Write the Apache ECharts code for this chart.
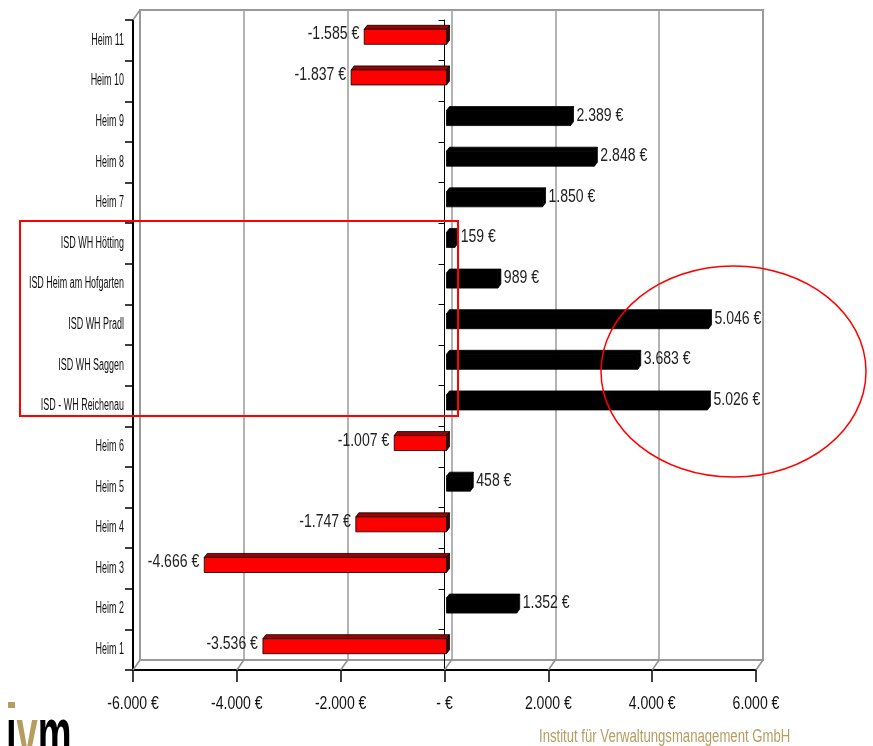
<!DOCTYPE html>
<html>
<head>
<meta charset="utf-8">
<script src="https://cdn.jsdelivr.net/npm/echarts@6/dist/echarts.min.js"></script>
<style>
  html, body { margin: 0; padding: 0; background: #fff; }
  #chart { width: 873px; height: 746px; }
</style>
</head>
<body>
<div id="chart"></div>
<script>
// Categories, bottom to top
const categories = [
  'Heim 1', 'Heim 2', 'Heim 3', 'Heim 4', 'Heim 5', 'Heim 6',
  'ISD - WH Reichenau', 'ISD WH Saggen', 'ISD WH Pradl',
  'ISD Heim am Hofgarten', 'ISD WH Hötting',
  'Heim 7', 'Heim 8', 'Heim 9', 'Heim 10', 'Heim 11'
];
// Result per home in euro
const values = [
  -3536, 1352, -4666, -1747, 458, -1007,
  5026, 3683, 5046,
  989, 159,
  1850, 2848, 2389, -1837, -1585
];
// Value axis ticks
const xTicks = [-6000, -4000, -2000, 0, 2000, 4000, 6000];

const SANS = '"Liberation Sans", Arial, sans-serif';
const GOLD = '#b49d5f';
// horizontal squeeze that gives the narrow typeface look
const NARROW_X = 0.78;

function euro(v) {
  if (v === 0) return '- €';
  const s = Math.abs(v).toString().replace(/\B(?=(\d{3})+(?!\d))/g, '.');
  return (v < 0 ? '-' : '') + s + ' €';
}

const xMin = xTicks[0], xMax = xTicks[xTicks.length - 1];
const xStep = xTicks[1] - xTicks[0];

// Offset of the back wall relative to the front plane (3D frame depth)
const DX = 7, DY = -10;

const chart = echarts.init(document.getElementById('chart'));

function narrowText(x, y, text, align, font, fill, sx) {
  return {
    type: 'text', x: x, y: y, scaleX: sx,
    style: { text: text, x: 0, y: 0, align: align, verticalAlign: 'middle', font: font, fill: fill }
  };
}

// 3D bar: front face, top face, end face and value label
function renderBar(params, api) {
  const v = api.value(0);
  const ci = api.value(1);
  const p = api.coord([v, ci]);
  const p0 = api.coord([0, ci]);
  const band = api.size([0, 1])[1];
  const h = band * 0.37;
  const depth = 4, dd = 3;
  const cy = p[1] - 3.5;
  const yT = cy - h / 2, yB = cy + h / 2;
  const xL = Math.min(p[0], p0[0]) + 2;
  const xR = Math.max(p[0], p0[0]) + 2;
  const neg = v < 0;
  const front = neg ? '#ff0000' : '#000000';
  const top = neg ? '#a00000' : '#000000';
  const side = neg ? '#4a0000' : '#000000';
  const stroke = { stroke: '#000', lineWidth: 0.8 };
  return {
    type: 'group',
    children: [
      { type: 'polygon', shape: { points: [[xL, yT], [xL + dd, yT - depth], [xR + dd, yT - depth], [xR, yT]] },
        style: Object.assign({ fill: top }, stroke) },
      { type: 'polygon', shape: { points: [[xR, yT], [xR + dd, yT - depth], [xR + dd, yB - depth], [xR, yB]] },
        style: Object.assign({ fill: side }, stroke) },
      { type: 'rect', shape: { x: xL, y: yT, width: xR - xL, height: h },
        style: Object.assign({ fill: front }, stroke) },
      narrowText(neg ? xL - 5 : xR + dd + 3, p[1] - 6, euro(v), neg ? 'right' : 'left',
        '18px ' + SANS, '#222', NARROW_X)
    ]
  };
}

// Floor diagonals and value-axis tick labels
function renderFrame(params, api) {
  const v = api.value(0);
  const cs = params.coordSys;
  const x = api.coord([v, 0])[0];
  const yb = cs.y + cs.height;
  const lineStyle = { stroke: '#8f8f8f', lineWidth: 1.5 };
  const children = [
    { type: 'line', shape: { x1: x, y1: yb, x2: x + DX, y2: yb + DY }, style: lineStyle },
    narrowText(x, yb + 34, euro(v), 'center', '18px ' + SANS, '#111', NARROW_X)
  ];
  if (v === xMin) {
    children.push({ type: 'line', shape: { x1: cs.x, y1: cs.y, x2: cs.x + DX, y2: cs.y + DY }, style: lineStyle });
  }
  return { type: 'group', children: children };
}

// Category names left of the category axis
function renderCategory(params, api) {
  const ci = api.value(1);
  const p = api.coord([xMin, ci]);
  return narrowText(p[0] - 9, p[1], categories[ci], 'right', '16px ' + SANS, '#111', 0.56);
}

const gridFront = { left: 133, right: 117, top: 20, bottom: 76, outerBoundsMode: 'none', containLabel: false };
const gridBack = {
  left: gridFront.left + DX, right: gridFront.right - DX,
  top: gridFront.top + DY, bottom: gridFront.bottom - DY,
  outerBoundsMode: 'none', containLabel: false,
  show: true, borderColor: '#9a9a9a', borderWidth: 2
};

chart.setOption({
  backgroundColor: '#ffffff',
  animation: false,
  grid: [gridFront, gridBack],
  xAxis: [
    {
      gridIndex: 0, type: 'value', min: xMin, max: xMax, interval: xStep,
      axisLine: { show: true, onZero: false, lineStyle: { color: '#000', width: 2 } },
      axisTick: { show: true, length: 12, lineStyle: { color: '#000', width: 1.5 } },
      axisLabel: { show: false },
      splitLine: { show: false }
    },
    {
      gridIndex: 1, type: 'value', min: xMin, max: xMax, interval: xStep,
      axisLine: { show: false }, axisTick: { show: false }, axisLabel: { show: false },
      splitLine: { show: true, lineStyle: { color: '#9a9a9a', width: 1.5 } }
    }
  ],
  yAxis: [
    {
      gridIndex: 0, type: 'category', data: categories, position: 'left',
      axisLine: { show: true, onZero: false, lineStyle: { color: '#000', width: 2 } },
      axisTick: { show: true, length: 8, lineStyle: { color: '#000', width: 1.5 } },
      axisLabel: { show: false },
      splitLine: { show: false }
    },
    {
      gridIndex: 0, type: 'category', data: categories, position: 'left',
      axisLine: { show: true, onZero: true, lineStyle: { color: '#000', width: 1 } },
      axisTick: { show: true, length: 6, lineStyle: { color: '#000', width: 1 } },
      axisLabel: { show: false },
      splitLine: { show: false }
    },
    {
      gridIndex: 1, type: 'value', show: false
    }
  ],
  series: [
    {
      type: 'custom', name: 'frame', xAxisIndex: 0, yAxisIndex: 0,
      renderItem: renderFrame, encode: { x: 0, y: 1 },
      data: xTicks.map(function (t) { return [t, 0]; }),
      z: 1, silent: true
    },
    {
      type: 'custom', name: 'categoryNames', xAxisIndex: 0, yAxisIndex: 0,
      renderItem: renderCategory, encode: { x: 0, y: 1 },
      data: categories.map(function (c, i) { return [xMin, i]; }),
      z: 3, silent: true, clip: false
    },
    {
      type: 'custom', name: 'Ergebnis', xAxisIndex: 0, yAxisIndex: 0,
      renderItem: renderBar, encode: { x: 0, y: 1 },
      data: values.map(function (v, i) { return [v, i]; }),
      z: 5
    }
  ],
  graphic: [
    // highlight box around the ISD homes
    { type: 'rect', shape: { x: 20, y: 221, width: 438, height: 195 },
      style: { fill: 'none', stroke: '#ff0000', lineWidth: 2 }, z: 20 },
    // highlight ellipse around the largest results
    { type: 'ellipse', shape: { cx: 733.5, cy: 371.5, rx: 132.5, ry: 105.5 },
      style: { fill: 'none', stroke: '#ff0000', lineWidth: 1.5 }, z: 20 },
    // logo
    { type: 'text', x: 6, y: 771, scaleX: 0.56, z: 20,
      style: {
        text: '{k|ı}{g|v}{k|m}',
        verticalAlign: 'bottom',
        rich: {
          k: { fill: '#000', font: 'bold 68px ' + SANS },
          g: { fill: GOLD, font: 'bold 68px ' + SANS }
        }
      } },
    { type: 'rect', z: 21, shape: { x: 8, y: 702, width: 7, height: 6 }, style: { fill: GOLD } },
    { type: 'text', x: 539, y: 737, scaleX: 0.73, z: 20,
      style: { text: 'Institut für Verwaltungsmanagement GmbH', fill: GOLD,
        font: '18px ' + SANS, verticalAlign: 'middle' } }
  ]
});
</script>
</body>
</html>
